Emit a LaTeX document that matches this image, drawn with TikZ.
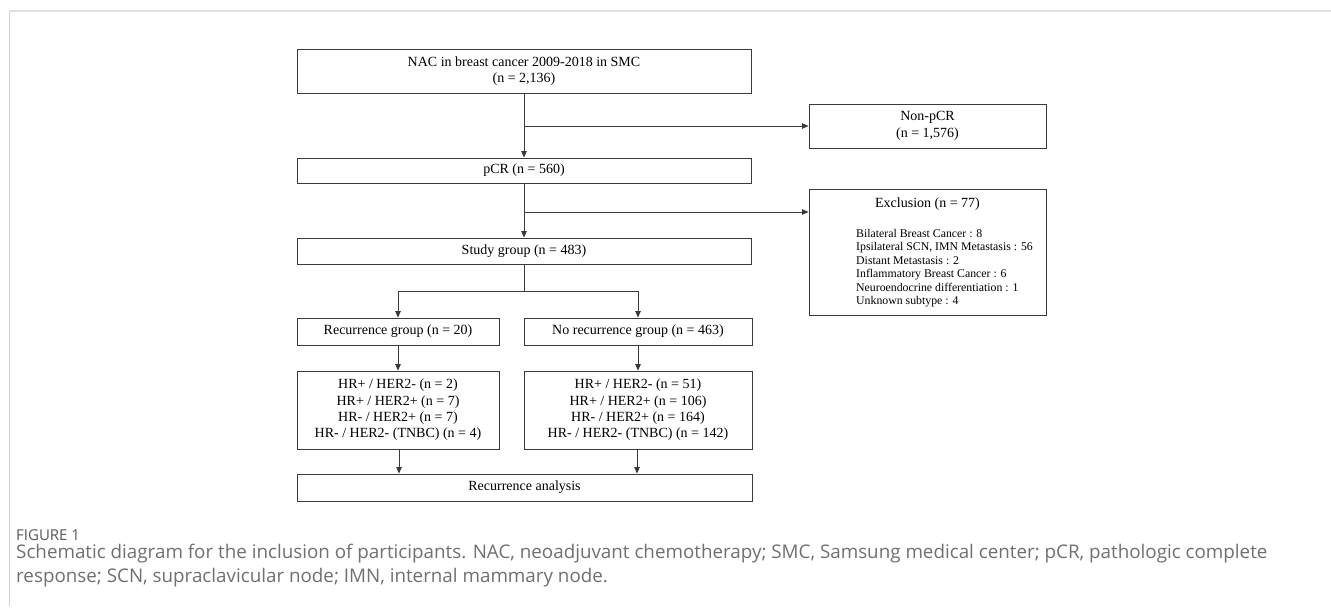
\documentclass[tikz,border=0pt]{standalone}
\usepackage{fontspec}
\setmainfont{Liberation Serif}
\newfontfamily\capfont{Open Sans}
\usetikzlibrary{arrows.meta,positioning}
\definecolor{linec}{HTML}{3A3A3A}
\definecolor{capc}{HTML}{707070}
\definecolor{figc}{HTML}{5A5A5A}
\tikzset{
  box/.style={draw=linec, line width=0.9pt, rectangle, inner sep=0pt, align=center, font=\fontsize{14}{16.3}\selectfont, text=black},
  conn/.style={draw=linec, line width=0.8pt},
  arr/.style={conn, -{Triangle[length=6.5pt,width=5.5pt]}},
  listtxt/.style={inner sep=0pt, align=left, font=\fontsize{11.8}{13.5}\selectfont, text=black},
}
\begin{document}
\begin{tikzpicture}[x=1pt,y=-1pt]
\useasboundingbox (0,0) rectangle (1331,609);
\fill[white] (0,0) rectangle (1331,609);
% frame
\draw[color={rgb,255:red,224;green,224;blue,224}, line width=2pt] (9,11.5) -- (1331,11.5);
\draw[color={rgb,255:red,210;green,210;blue,210}, line width=1pt] (9.5,12) -- (9.5,606);
% nodes
\node[box, minimum width=454, minimum height=44] (top) at (524,71) {NAC in breast cancer 2009-2018 in SMC\\(n = 2,136)};
\node[box, minimum width=237, minimum height=44] (nonpcr) at (927.5,126) {Non-pCR\\(n = 1,576)};
\node[box, minimum width=454, minimum height=25] (pcr) at (524,170.5) {pCR (n = 560)};
\node[box, minimum width=237, minimum height=126] (excl) at (927.5,252) {};
\node[box, draw=none, anchor=center] (exclT) at (927.5,204) {Exclusion (n = 77)};
\node[listtxt, anchor=north west] (exclL) at (856,229) {Bilateral Breast Cancer : 8\\Ipsilateral SCN, IMN Metastasis : 56\\Distant Metastasis : 2\\Inflammatory Breast Cancer : 6\\Neuroendocrine differentiation : 1\\Unknown subtype : 4};
\node[box, minimum width=454, minimum height=26] (study) at (524,251) {Study group (n = 483)};
\node[box, minimum width=202, minimum height=27] (rec) at (398,331.5) {Recurrence group (n = 20)};
\node[box, minimum width=228, minimum height=27] (norec) at (638,331.5) {No recurrence group (n = 463)};
\node[box, minimum width=202, minimum height=78] (hrL) at (398,410) {HR+ / HER2- (n = 2)\\HR+ / HER2+ (n = 7)\\HR- / HER2+ (n = 7)\\HR- / HER2- (TNBC) (n = 4)};
\node[box, minimum width=228, minimum height=78] (hrR) at (638,410) {HR+ / HER2- (n = 51)\\HR+ / HER2+ (n = 106)\\HR- / HER2+ (n = 164)\\HR- / HER2- (TNBC) (n = 142)};
\node[box, minimum width=455, minimum height=27] (ana) at (524.5,487.5) {Recurrence analysis};
% connectors
\coordinate (b1) at (524,126);
\coordinate (b2) at (524,212);
\coordinate (b3) at (524,291);
\draw[arr] (top.south) -- (pcr.north);
\draw[arr] (b1) -- (nonpcr.west);
\draw[arr] (pcr.south) -- (study.north);
\draw[arr] (b2) -- (b2 -| excl.west);
\draw[conn] (study.south) -- (b3);
\draw[arr] (b3) -| (rec.north);
\draw[arr] (b3) -| (norec.north);
\draw[arr] (rec.south) -- (hrL.north);
\draw[arr] (norec.south) -- (hrR.north);
\draw[arr] ([xshift=1pt]hrL.south) -- ([xshift=1pt]hrL.south |- ana.north);
\draw[arr] ([xshift=-1pt]hrR.south) -- ([xshift=-1pt]hrR.south |- ana.north);
% caption
\node[anchor=west, inner sep=0pt, text=figc, font=\capfont\fontsize{15}{18}\selectfont] (fig) at (16,535) {FIGURE 1};
\node[anchor=north west, inner sep=0pt, text=capc, align=left, font=\capfont\fontsize{18.8}{24}\selectfont] (cap) at (16,544) {Schematic diagram for the inclusion of participants. NAC, neoadjuvant chemotherapy; SMC, Samsung medical center; pCR, pathologic complete\\response; SCN, supraclavicular node; IMN, internal mammary node.};
\end{tikzpicture}
\end{document}
